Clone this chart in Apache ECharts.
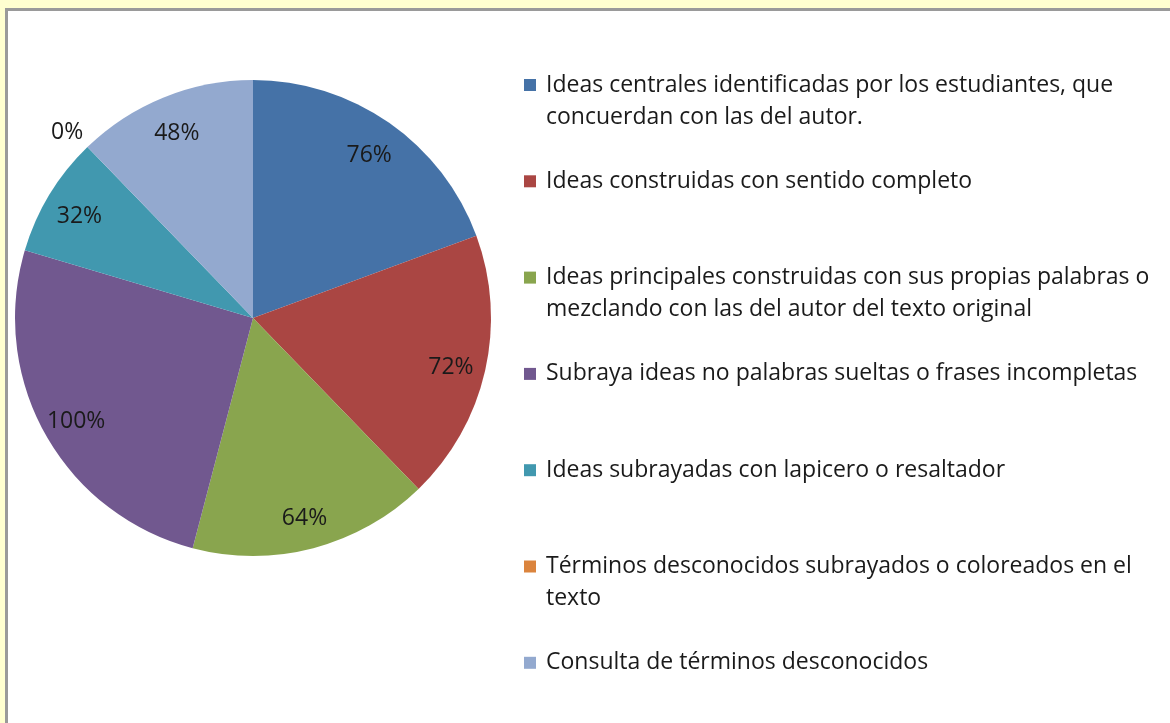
<!DOCTYPE html>
<html>
<head>
<meta charset="utf-8">
<script src="https://cdn.jsdelivr.net/npm/echarts@6/dist/echarts.min.js"></script>
<style>
    html, body { margin: 0; padding: 0; background: #ffffd0; overflow: hidden; }
    #frame { position: absolute; left: 5px; top: 8px; width: 1200px; height: 760px;
             background: #fff; border-left: 3px solid #9a9a9a; border-top: 3px solid #9a9a9a; }
    #main { position: absolute; left: 0; top: 0; width: 1170px; height: 723px; }
</style>
</head>
<body>
<div id="frame"></div>
<div id="main"></div>
<script>
// categorias (con salto de linea como en la leyenda)
var categories = [
    "Ideas centrales identificadas por los estudiantes, que\nconcuerdan con las del autor.",
    "Ideas construidas con sentido completo",
    "Ideas principales construidas con sus propias palabras o\nmezclando con las del autor del texto original",
    "Subraya ideas no palabras sueltas o frases incompletas",
    "Ideas subrayadas con lapicero o resaltador",
    "Términos desconocidos subrayados o coloreados en el\ntexto",
    "Consulta de términos desconocidos"
];
var values = [76, 72, 64, 100, 32, 0, 48];
var colors = ["#4572a7", "#aa4643", "#89a54e", "#71588f", "#4198af", "#db843d", "#93a9cf"];

var font = '"Open Sans", "Noto Sans", sans-serif';

var pieData = [], labelData = [], legendData = [];
for (var i = 0; i < categories.length; i++) {
    pieData.push({ name: categories[i], value: values[i], itemStyle: { color: colors[i] } });

    var item = { name: categories[i], value: values[i] };
    if (values[i] === 0) {
        // etiqueta de 0% fuera del circulo
        item.label = { position: 'outside', distanceToLabelLine: 0 };
        item.labelLine = { show: false, length: 6, length2: 0 };
    }
    labelData.push(item);

    var twoLines = categories[i].indexOf("\n") >= 0;
    legendData.push({
        name: categories[i],
        textStyle: { padding: twoLines ? [0, 0, 0, 5] : [32, 0, 32, 5] }
    });
}

var chart = echarts.init(document.getElementById('main'));
chart.setOption({
    animation: false,
    color: colors,
    legend: {
        orient: 'vertical',
        left: 524,
        top: 37,
        padding: 0,
        itemGap: 0.3,
        itemWidth: 12,
        itemHeight: 12,
        icon: 'rect',
        selectedMode: false,
        data: legendData,
        // linea vacia arriba para que el cuadro quede en la primera linea
        formatter: function (name) {
            return name.indexOf("\n") >= 0 ? " \n" + name : name;
        },
        textStyle: {
            fontFamily: font,
            fontSize: 23,
            lineHeight: 32,
            color: '#1a1a1a'
        }
    },
    series: [{
        type: 'pie',
        center: [253, 318],
        radius: [0, 238],
        startAngle: 90,
        clockwise: true,
        silent: true,
        label: { show: false },
        labelLine: { show: false },
        data: pieData
    }, {
        // capa transparente solo para colocar las etiquetas
        type: 'pie',
        center: [253, 318],
        radius: [162, 238],
        startAngle: 90,
        clockwise: true,
        silent: true,
        itemStyle: { color: 'rgba(0,0,0,0)' },
        label: {
            show: true,
            position: 'inside',
            formatter: '{c}%',
            fontFamily: font,
            fontSize: 23,
            color: '#1a1a1a'
        },
        labelLayout: function (params) {
            return { dy: values[params.dataIndex] === 0 ? -10 : 4 };
        },
        data: labelData
    }]
});
</script>
</body>
</html>
